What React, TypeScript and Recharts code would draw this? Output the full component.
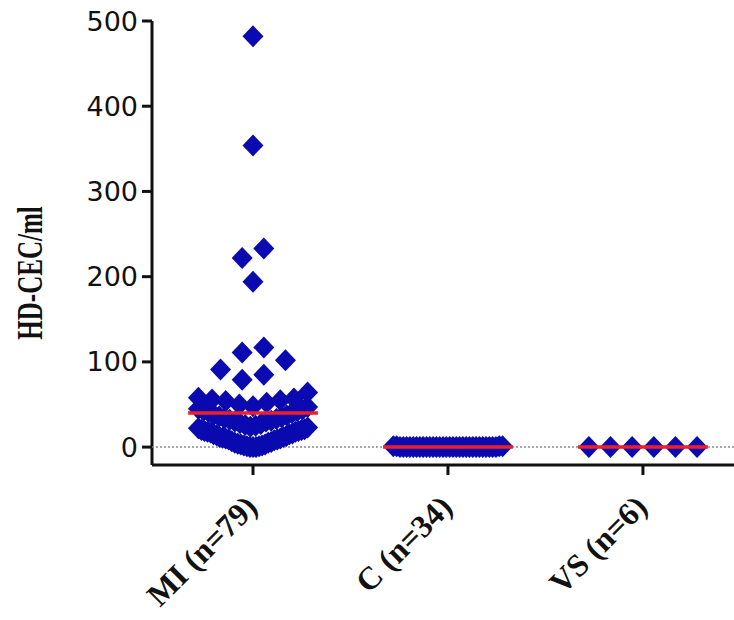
import React from "react";
import { ScatterChart, Scatter, XAxis, YAxis } from "recharts";

const CATEGORIES = ["MI (n=79)", "C (n=34)", "VS (n=6)"];

const MI_VALUES = [
  482, 354, 233, 222, 194,
  117, 111, 102, 91, 85, 79,
  64, 58, 57, 56, 55, 54, 52, 50,
  48, 47, 45, 44, 43, 42, 41, 40,
  38, 37, 36, 35, 34, 33, 32, 31, 30, 30,
  28, 27, 26, 25, 24, 23, 22, 21, 20, 20, 19, 19, 18, 18,
  17, 16, 15, 15, 14, 13, 12, 12, 11, 10, 10, 9, 9, 8,
  7, 6, 5, 5, 4, 3, 3, 2, 2, 1, 1, 0, 0, 0,
];

const C_VALUES = [
  0, 0, 0, 0, 0, 0, 0, 0, 0, 0, 0, 0, 0, 0, 0, 0, 0,
  0, 0, 0, 0, 0, 0, 0, 0, 0, 0, 0, 0, 0, 1, 1, 1, 1,
];

const VS_VALUES = [0, 0, 0, 0, 0, 0];

const MEDIANS = [40, 0, 0];

const Y_TICKS = [0, 100, 200, 300, 400, 500];

// layout
const X_MIN = -0.518;
const X_MAX = 2.467;
const STEP = 0.111; // spacing of neighbours in a row
const MAX_HALF = 0.28; // widest spread of a row
const ROW_H = 23; // values closer than this share a row
const MEDIAN_HALF = 0.333;
const BLUE = "#0a0ab0";

// GraphPad style column scatter: lowest value in the middle, others outward
function swarm(values: number[], group: number) {
  const sorted = [...values].sort((a, b) => a - b);
  const rows: number[][] = [];
  let cur: number[] = [];
  let start = 0;
  for (const v of sorted) {
    if (cur.length && v - start > ROW_H) {
      rows.push(cur);
      cur = [];
    }
    if (!cur.length) start = v;
    cur.push(v);
  }
  if (cur.length) rows.push(cur);

  const pts: { x: number; y: number }[] = [];
  for (const row of rows) {
    const n = row.length;
    const step = n > 1 ? Math.min(STEP, (2 * MAX_HALF) / (n - 1)) : 0;
    const slots = row.map((_, i) => (i - (n - 1) / 2) * step);
    const order = slots
      .map((_, i) => i)
      .sort(
        (a, b) =>
          Math.abs(slots[a]) - Math.abs(slots[b]) || slots[a] - slots[b]
      );
    row.forEach((v, k) => pts.push({ x: group + slots[order[k]], y: v }));
  }
  return pts;
}

const groups = [MI_VALUES, C_VALUES, VS_VALUES].map((vals, i) => swarm(vals, i));

const medianLines = MEDIANS.map((m, i) => [
  { x: i - MEDIAN_HALF, y: m },
  { x: i + MEDIAN_HALF, y: m },
]);

const zeroLine = [
  { x: X_MIN, y: 0 },
  { x: X_MAX, y: 0 },
];

const Diamond = (props: any) => {
  const { cx, cy } = props;
  if (cx == null || cy == null) return <g />;
  return (
    <path
      d={`M${cx},${cy - 11} L${cx + 10.5},${cy} L${cx},${cy + 11} L${cx - 10.5},${cy} Z`}
      fill={BLUE}
    />
  );
};

const NoDot = () => <g />;

const XTick = (props: any) => {
  const { x, y, payload } = props;
  const ax = x + 6;
  const ay = y + 32;
  return (
    <text
      x={ax}
      y={ay}
      transform={`rotate(-45 ${ax} ${ay})`}
      textAnchor="end"
      fontFamily="'Liberation Serif', serif"
      fontWeight="bold"
      fontSize={32}
      fill="#111"
    >
      {CATEGORIES[payload.value]}
    </text>
  );
};

const renderYLabel = () => (
  <text
    transform="translate(42 273) rotate(-90) scale(1 1.4)"
    textAnchor="middle"
    fontFamily="'Liberation Serif', serif"
    fontWeight="bold"
    fontSize={25}
    fill="#111"
  >
    HD-CEC/ml
  </text>
);

export default function App() {
  return (
    <div
      style={{
        position: "absolute",
        left: 0,
        top: 0,
        width: 734,
        height: 620,
        background: "#fff",
      }}
    >
      <ScatterChart
        width={734}
        height={620}
        margin={{ top: 21, right: 0, bottom: 0, left: 0 }}
      >
        <XAxis
          type="number"
          dataKey="x"
          domain={[X_MIN, X_MAX]}
          ticks={[0, 1, 2]}
          allowDataOverflow
          height={155}
          tickSize={10}
          tick={<XTick />}
          axisLine={{ stroke: "#111", strokeWidth: 3 }}
          tickLine={{ stroke: "#111", strokeWidth: 3 }}
        />
        <YAxis
          type="number"
          dataKey="y"
          domain={[-21, 500]}
          ticks={Y_TICKS}
          allowDataOverflow
          width={152}
          tickSize={10}
          tickMargin={4}
          tick={{ fontFamily: "'DejaVu Sans', sans-serif", fontSize: 27, fill: "#111" }}
          axisLine={{ stroke: "#111", strokeWidth: 3 }}
          tickLine={{ stroke: "#111", strokeWidth: 3 }}
          label={renderYLabel}
        />
        <Scatter
          data={zeroLine}
          line={{ stroke: "#8a8a8a", strokeWidth: 1.5, strokeDasharray: "2 2" }}
          shape={NoDot}
          isAnimationActive={false}
        />
        {groups.map((pts, i) => (
          <Scatter
            key={CATEGORIES[i]}
            data={pts}
            shape={Diamond}
            fill={BLUE}
            isAnimationActive={false}
          />
        ))}
        {medianLines.map((pts, i) => (
          <Scatter
            key={"m" + i}
            data={pts}
            line={{ stroke: "#f01e28", strokeWidth: 3.5 }}
            shape={NoDot}
            isAnimationActive={false}
          />
        ))}
      </ScatterChart>
    </div>
  );
}
